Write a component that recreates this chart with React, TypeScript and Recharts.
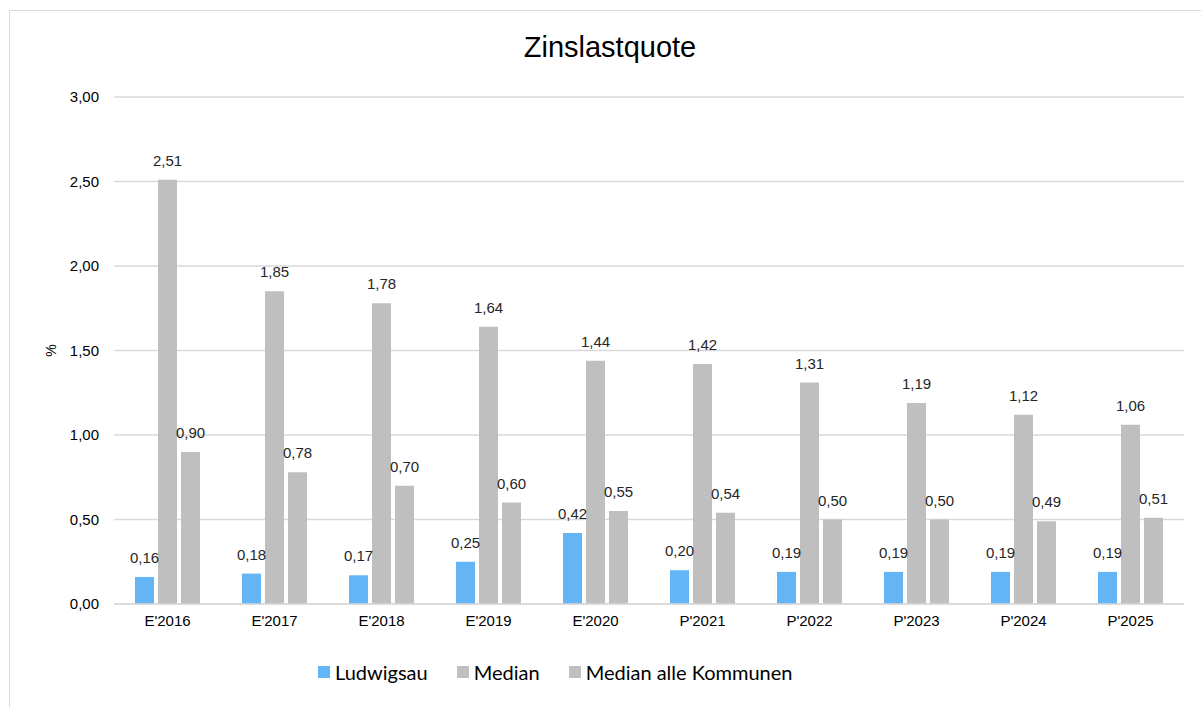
import { BarChart, Bar, XAxis, YAxis, CartesianGrid, LabelList } from "recharts";

const YEARS = ["E'2016", "E'2017", "E'2018", "E'2019", "E'2020", "P'2021", "P'2022", "P'2023", "P'2024", "P'2025"];
const LUDWIGSAU = [0.16, 0.18, 0.17, 0.25, 0.42, 0.2, 0.19, 0.19, 0.19, 0.19];
const MEDIAN = [2.51, 1.85, 1.78, 1.64, 1.44, 1.42, 1.31, 1.19, 1.12, 1.06];
const MEDIAN_ALLE = [0.9, 0.78, 0.7, 0.6, 0.55, 0.54, 0.5, 0.5, 0.49, 0.51];
const Y_TICKS = [0, 0.5, 1, 1.5, 2, 2.5, 3];

const BLUE = "#64B5F6";
const GREY = "#BFBFBF";
const FONT = "'Liberation Sans', Arial, sans-serif";

const rows = YEARS.map((year, i) => ({
  year,
  ludwigsau: LUDWIGSAU[i],
  median: MEDIAN[i],
  alle: MEDIAN_ALLE[i],
}));

const fmt = (v: number) => v.toFixed(2).replace(".", ",");

const LEGEND = [
  { label: "Ludwigsau", color: BLUE },
  { label: "Median", color: GREY },
  { label: "Median alle Kommunen", color: GREY },
];

export default function App() {
  const labelStyle = { fontSize: 15, fill: "#262626", fontFamily: FONT };
  return (
    <div style={{ position: "absolute", left: 0, top: 0, width: 1201, height: 707, overflow: "hidden", background: "#fff" }}>
      <div style={{ position: "absolute", left: 9, top: 10, width: 1300, height: 800, border: "1.5px solid #D9D9D9" }} />
      <div style={{ position: "absolute", left: 410, top: 31, width: 400, textAlign: "center", fontFamily: FONT, fontSize: 29, color: "#000" }}>
        Zinslastquote
      </div>
      <div style={{ position: "absolute", left: 0, top: 0 }}>
        <BarChart width={1201} height={707} data={rows} margin={{ top: 97, right: 17, left: 24, bottom: 73 }} barSize={19} barGap={4}>
          <CartesianGrid vertical={false} stroke="#D9D9D9" strokeWidth={1.5} />
          <XAxis dataKey="year" height={30} tickLine={false} axisLine={{ stroke: "#D9D9D9", strokeWidth: 1.5 }} tickSize={0} tickMargin={11}
            tick={{ fontSize: 15, fill: "#000", fontFamily: FONT }} />
          <YAxis width={90} domain={[0, 3]} ticks={Y_TICKS} tickFormatter={fmt} axisLine={false} tickLine={false} tickSize={0} tickMargin={15}
            tick={{ fontSize: 15, fill: "#000", fontFamily: FONT }}
            label={{ value: "%", angle: -90, position: "center", dx: -18, style: { fontSize: 14, fill: "#000", fontFamily: FONT } }} />
          <Bar dataKey="ludwigsau" fill={BLUE} isAnimationActive={false}>
            <LabelList dataKey="ludwigsau" position="top" offset={14} formatter={(v: number) => fmt(v)} style={labelStyle} />
          </Bar>
          <Bar dataKey="median" fill={GREY} isAnimationActive={false}>
            <LabelList dataKey="median" position="top" offset={14} formatter={(v: number) => fmt(v)} style={labelStyle} />
          </Bar>
          <Bar dataKey="alle" fill={GREY} isAnimationActive={false}>
            <LabelList dataKey="alle" position="top" offset={14} formatter={(v: number) => fmt(v)} style={labelStyle} />
          </Bar>
        </BarChart>
      </div>
      <div style={{ position: "absolute", left: 318, top: 660, height: 24, display: "flex", alignItems: "center", fontFamily: "Lato, sans-serif", fontSize: 20, color: "#000" }}>
        {LEGEND.map((l, i) => (
          <div key={l.label} style={{ display: "flex", alignItems: "center", marginLeft: i === 0 ? 0 : 29 }}>
            <span style={{ display: "inline-block", width: 12, height: 12, background: l.color, marginRight: 5 }} />
            <span>{l.label}</span>
          </div>
        ))}
      </div>
    </div>
  );
}
